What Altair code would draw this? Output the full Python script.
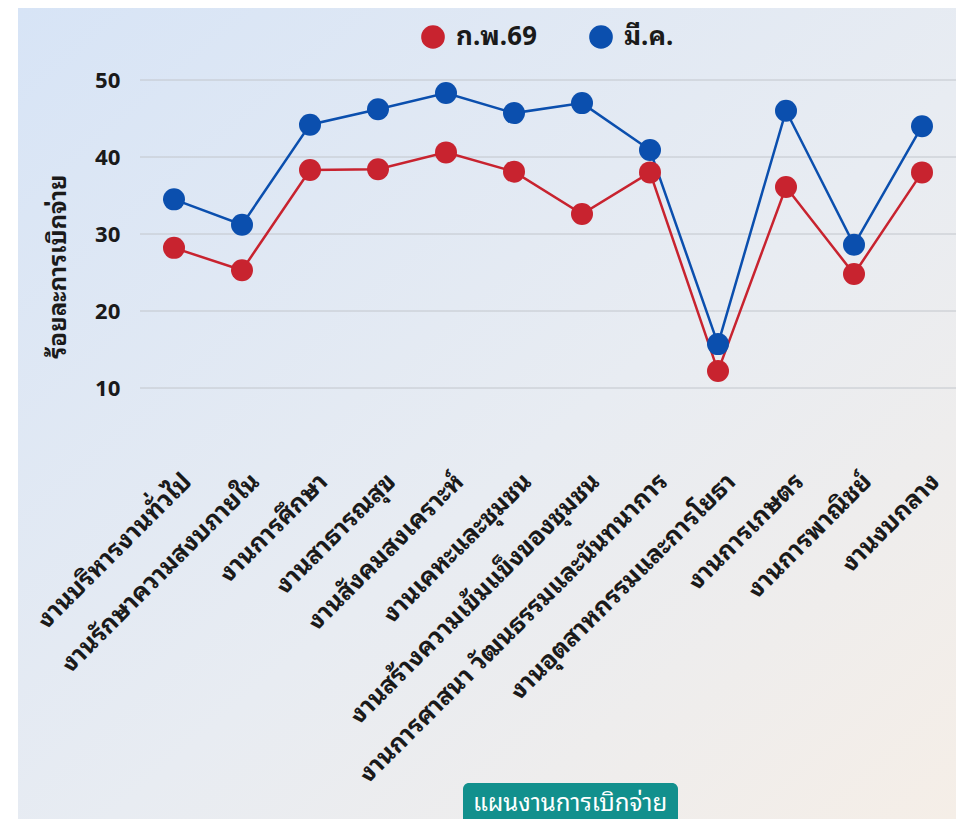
import altair as alt
import pandas as pd

categories = [
    "งานบริหารงานทั่วไป",
    "งานรักษาความสงบภายใน",
    "งานการศึกษา",
    "งานสาธารณสุข",
    "งานสังคมสงเคราะห์",
    "งานเคหะและชุมชน",
    "งานสร้างความเข้มแข็งของชุมชน",
    "งานการศาสนา วัฒนธรรมและนันทนาการ",
    "งานอุตสาหกรรมและการโยธา",
    "งานการเกษตร",
    "งานการพาณิชย์",
    "งานงบกลาง",
]
series_names = ["ก.พ.69", "มี.ค."]
feb_values = [28.2, 25.3, 38.3, 38.4, 40.6, 38.1, 32.6, 38.0, 12.2, 36.1, 24.8, 38.0]
mar_values = [34.5, 31.2, 44.2, 46.2, 48.3, 45.7, 47.0, 40.9, 15.7, 46.0, 28.6, 44.0]
y_ticks = [10, 20, 30, 40, 50]
colors = ["#c8232f", "#0b4fae"]
x_title = "แผนงานการเบิกจ่าย"
y_title = "ร้อยละการเบิกจ่าย"

rows = []
for s, vals in zip(series_names, [feb_values, mar_values]):
    for c, v in zip(categories, vals):
        rows.append({"cat": c, "series": s, "value": v})
df = pd.DataFrame(rows)

FONT = "Noto Sans Thai Looped, Noto Sans Thai, Tahoma, Noto Sans, sans-serif"

W, H = 816, 385
y_scale = alt.Scale(domain=[0, 50], nice=False)

y_axis = alt.Axis(values=y_ticks, title=y_title, domain=False, ticks=False,
                  grid=False, zindex=1,
                  labelFontSize=22, labelFontWeight="bold", labelColor="#1a1a1a",
                  labelPadding=20, labelFont=FONT,
                  titleFont=FONT, titleFontSize=24, titleFontWeight="bold",
                  titleColor="#1a1a1a", titleAngle=270, titleX=-82, titleY=186,
                  titleAlign="center", titleBaseline="middle")

x_enc = alt.X("cat:N", sort=categories,
              scale=alt.Scale(type="point", padding=0.5),
              axis=alt.Axis(title=None, labelAngle=315, labelAlign="right",
                            labelBaseline="middle", labelOffset=13, labelPadding=12,
                            labelFontSize=25, labelFontWeight="bold", labelColor="#1a1a1a",
                            labelLimit=700, domain=False, ticks=False, grid=False,
                            labelFont=FONT, zindex=1))
y_enc = alt.Y("value:Q", scale=y_scale, axis=y_axis)
color_enc = alt.Color("series:N",
                      scale=alt.Scale(domain=series_names, range=colors),
                      sort=series_names,
                      legend=alt.Legend(title=None, orient="none", direction="horizontal",
                                        legendX=280, legendY=-56, symbolType="circle",
                                        symbolSize=560, symbolStrokeWidth=0,
                                        labelFontSize=26, labelFontWeight="bold",
                                        labelColor="#1a1a1a", labelFont=FONT,
                                        labelOffset=10, columnPadding=50, zindex=1))

bg = alt.Chart(pd.DataFrame({"k": [0]})).mark_rect(
    fill=alt.Gradient(gradient="linear",
                      stops=[alt.GradientStop(color="#d7e4f6", offset=0),
                             alt.GradientStop(color="#e8ecf2", offset=0.55),
                             alt.GradientStop(color="#f5eee7", offset=1)],
                      x1=0, y1=0, x2=1, y2=1)
).encode(x=alt.value(-122), x2=alt.value(W), y=alt.value(-72), y2=alt.value(739))

grid = alt.Chart(pd.DataFrame({"value": y_ticks})).mark_rule(
    color="#c2c6cc", strokeWidth=1
).encode(y=y_enc)

lines = alt.Chart(df).mark_line(strokeWidth=2.5).encode(
    x=x_enc, y=y_enc, color=color_enc, detail="series:N")

points = alt.Chart(df).mark_point(filled=True, size=484, opacity=1).encode(
    x=x_enc, y=y_enc, color=color_enc)

box = alt.Chart(pd.DataFrame({"k": [0]})).mark_rect(
    fill="#12908d", cornerRadiusTopLeft=6, cornerRadiusTopRight=6
).encode(x=alt.value(323), x2=alt.value(538), y=alt.value(703), y2=alt.value(745))

title_txt = alt.Chart(pd.DataFrame({"t": [x_title]})).mark_text(
    color="white", fontSize=24, font=FONT, align="center", baseline="middle"
).encode(text="t:N", x=alt.value(430), y=alt.value(724))

chart = alt.layer(bg, grid, lines, points, box, title_txt).properties(
    width=W, height=H,
    autosize=alt.AutoSizeParams(type="none"),
    padding={"left": 132, "top": 72, "right": 0, "bottom": 354},
    background="white",
).configure_view(stroke=None).configure(font=FONT)

chart.save("out.html", embed_options={"renderer": "svg", "actions": False})
